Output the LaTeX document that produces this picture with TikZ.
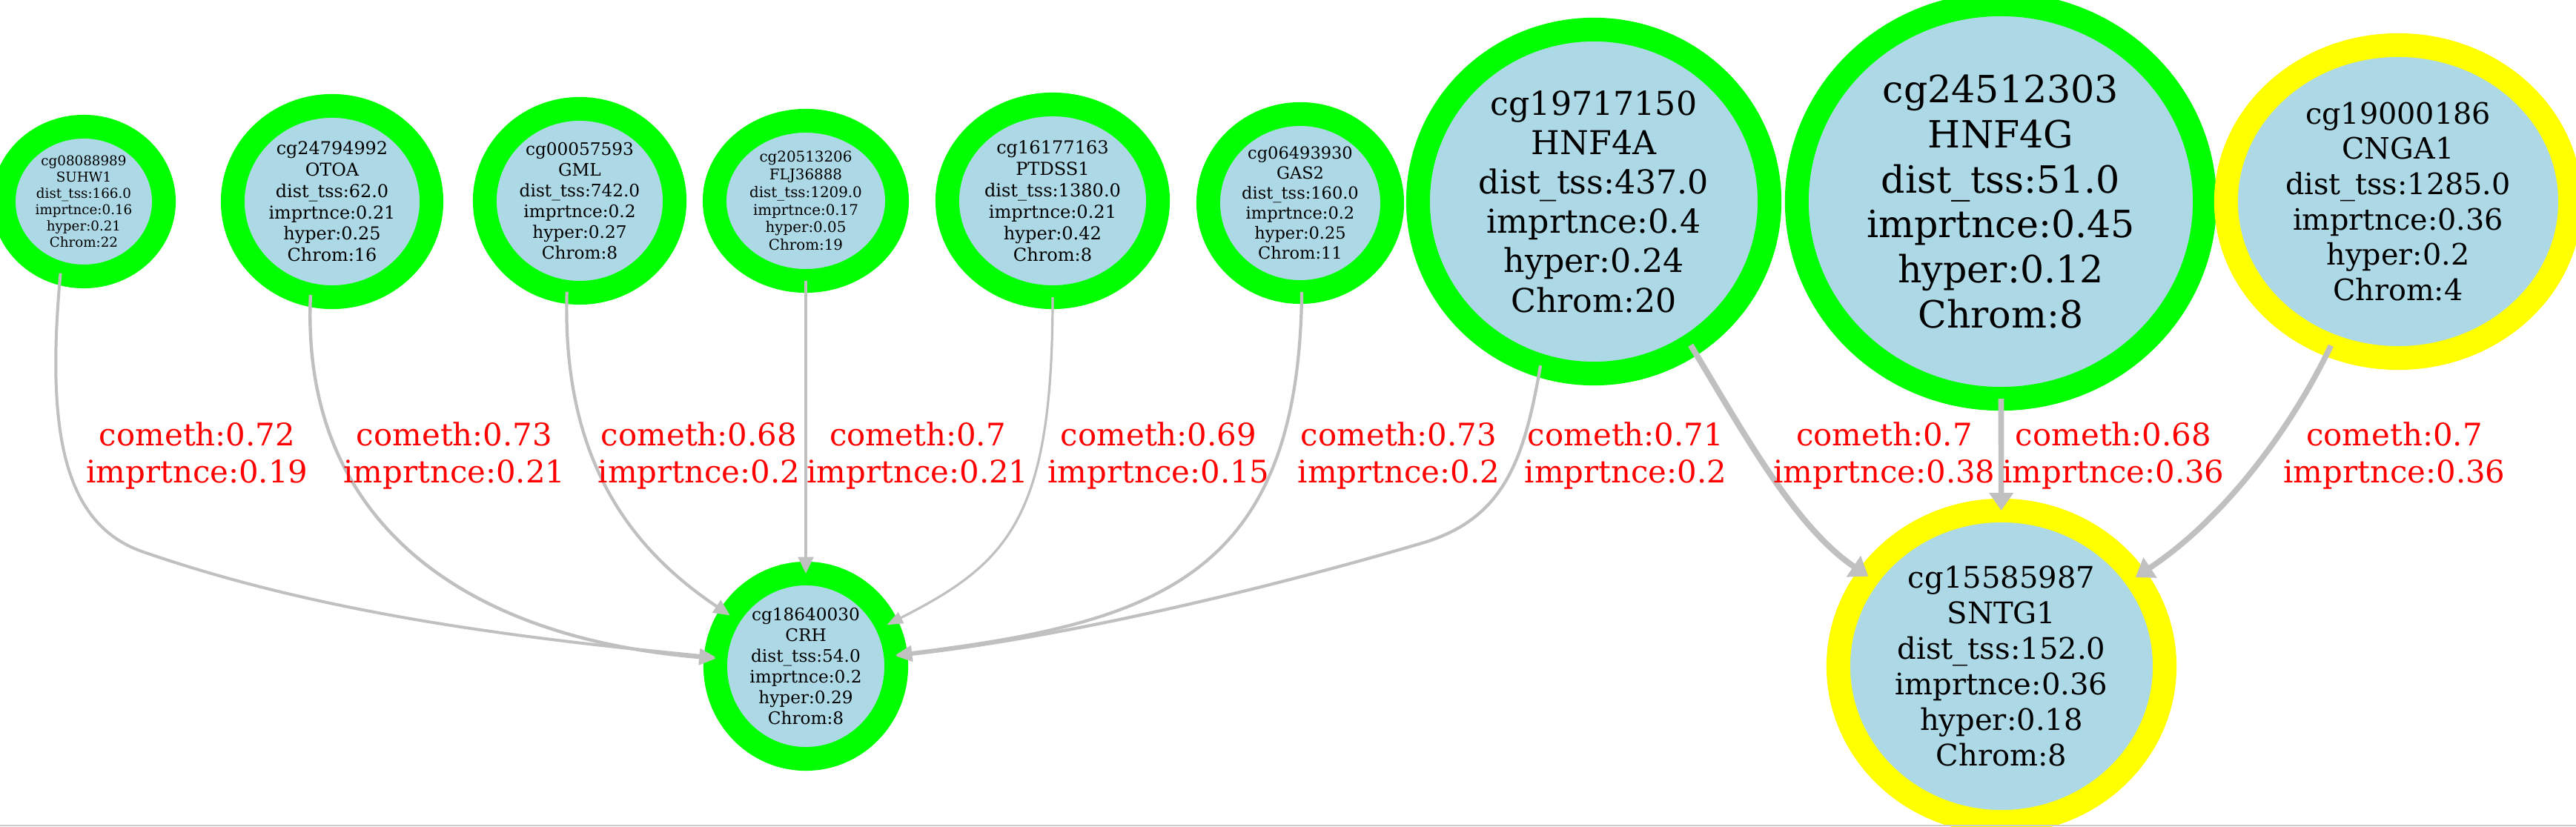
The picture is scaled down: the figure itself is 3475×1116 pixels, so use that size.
\documentclass[tikz,border=0pt]{standalone}
\usepackage{fontspec}
\setmainfont{DejaVu Serif}
\usetikzlibrary{shapes.geometric, arrows.meta}

\definecolor{lightblue}{HTML}{ADD8E6}
\definecolor{ringgreen}{HTML}{00FF00}
\definecolor{ringyellow}{HTML}{FFFF00}
\definecolor{linkgray}{HTML}{C0C0C0}

\newcommand{\gvsize}[1]{\fontsize{#1}{\the\dimexpr #1pt * 6 / 5\relax}\selectfont}

\begin{document}
\begin{tikzpicture}[x = 0.01cm, y = -0.01cm,
	probe/.style = {ellipse, draw = #1, fill = lightblue, line width = 0.32cm, inner sep = 0pt, outer sep = 0pt, align = center},
	link/.style = {draw = linkgray, line width = #1 * 0.01cm, -{Triangle[length = 0.2cm 0.5, width = 0.05cm 3.5]}},
	lbl/.style = {text = red, font = \gvsize{11.9}, align = center}]
	\useasboundingbox (0, 0) rectangle (3475, 1116);

	\node[probe = ringgreen, minimum width = 2.16cm, minimum height = 2.02cm, font = \gvsize{5.2}] (suhw1) at (113, 272){cg08088989\\SUHW1\\dist\_tss:166.0\\imprtnce:0.16\\hyper:0.21\\Chrom:22};
	\node[probe = ringgreen, minimum width = 2.68cm, minimum height = 2.58cm, font = \gvsize{6.8}] (otoa) at (448, 272){cg24794992\\OTOA\\dist\_tss:62.0\\imprtnce:0.21\\hyper:0.25\\Chrom:16};
	\node[probe = ringgreen, minimum width = 2.56cm, minimum height = 2.48cm, font = \gvsize{6.6}] (gml) at (782, 271){cg00057593\\GML\\dist\_tss:742.0\\imprtnce:0.2\\hyper:0.27\\Chrom:8};
	\node[probe = ringgreen, minimum width = 2.46cm, minimum height = 2.16cm, font = \gvsize{5.65}] (flj36888) at (1087, 271){cg20513206\\FLJ36888\\dist\_tss:1209.0\\imprtnce:0.17\\hyper:0.05\\Chrom:19};
	\node[probe = ringgreen, minimum width = 2.84cm, minimum height = 2.60cm, font = \gvsize{6.85}] (ptdss1) at (1420, 271){cg16177163\\PTDSS1\\dist\_tss:1380.0\\imprtnce:0.21\\hyper:0.42\\Chrom:8};
	\node[probe = ringgreen, minimum width = 2.48cm, minimum height = 2.40cm, font = \gvsize{6.4}] (gas2) at (1754, 274){cg06493930\\GAS2\\dist\_tss:160.0\\imprtnce:0.2\\hyper:0.25\\Chrom:11};
	\node[probe = ringgreen, minimum width = 4.74cm, minimum height = 4.64cm, font = \gvsize{12.6}] (hnf4a) at (2150, 272){cg19717150\\HNF4A\\dist\_tss:437.0\\imprtnce:0.4\\hyper:0.24\\Chrom:20};
	\node[probe = ringgreen, minimum width = 5.50cm, minimum height = 5.32cm, font = \gvsize{14.4}] (hnf4g) at (2699, 272){cg24512303\\HNF4G\\dist\_tss:51.0\\imprtnce:0.45\\hyper:0.12\\Chrom:8};
	\node[probe = ringyellow, minimum width = 4.64cm, minimum height = 4.22cm, font = \gvsize{11.3}] (cnga1) at (3235, 272){cg19000186\\CNGA1\\dist\_tss:1285.0\\imprtnce:0.36\\hyper:0.2\\Chrom:4};
	\node[probe = ringgreen, minimum width = 2.44cm, minimum height = 2.50cm, font = \gvsize{6.6}] (crh) at (1087, 899){cg18640030\\CRH\\dist\_tss:54.0\\imprtnce:0.2\\hyper:0.29\\Chrom:8};
	\node[probe = ringyellow, minimum width = 4.40cm, minimum height = 4.20cm, font = \gvsize{11.4}] (sntg1) at (2700, 899){cg15585987\\SNTG1\\dist\_tss:152.0\\imprtnce:0.36\\hyper:0.18\\Chrom:8};

	\draw[link = 4.0] (suhw1.-108) .. controls (62, 580) and (85, 706) .. (191, 744) .. controls (441, 831) and (713, 862) .. (crh);
	\draw[link = 4.4] (otoa.-103) .. controls (405, 700) and (620, 860) .. (crh);
	\draw[link = 4.2] (gml.-98) .. controls (758, 620) and (850, 740) .. (crh);
	\draw[link = 4.4] (flj36888) -- (crh);
	\draw[link = 3.2] (ptdss1.-90) .. controls (1420, 700) and (1360, 760) .. (crh);
	\draw[link = 4.2] (gas2.-89) .. controls (1752, 780) and (1560, 840) .. (crh);
	\draw[link = 4.2] (hnf4a.-108) .. controls (2056, 620) and (2030, 700) .. (1918, 733) .. controls (1738, 786) and (1458, 857) .. (crh);
	\draw[link = 8.0] (hnf4a.-56) .. controls (2350, 580) and (2420, 710) .. (sntg1);
	\draw[link = 7.6] (hnf4g) -- (sntg1);
	\draw[link = 7.6] (cnga1.-115) .. controls (3090, 580) and (3000, 700) .. (sntg1);

	\node[lbl] (l1) at (266, 615){cometh:0.72\\imprtnce:0.19};
	\node[lbl] (l2) at (613, 615){cometh:0.73\\imprtnce:0.21};
	\node[lbl] (l3) at (943, 615){cometh:0.68\\imprtnce:0.2};
	\node[lbl] (l4) at (1238, 615){cometh:0.7\\imprtnce:0.21};
	\node[lbl] (l5) at (1563, 615){cometh:0.69\\imprtnce:0.15};
	\node[lbl] (l6) at (1887, 615){cometh:0.73\\imprtnce:0.2};
	\node[lbl] (l7) at (2193, 615){cometh:0.71\\imprtnce:0.2};
	\node[lbl] (l8) at (2542, 615){cometh:0.7\\imprtnce:0.38};
	\node[lbl] (l9) at (2851, 615){cometh:0.68\\imprtnce:0.36};
	\node[lbl] (l10) at (3230, 615){cometh:0.7\\imprtnce:0.36};

	\draw[black!20, line width = 0.025cm] (0, 1114) -- (3475, 1114);
\end{tikzpicture}
\end{document}
